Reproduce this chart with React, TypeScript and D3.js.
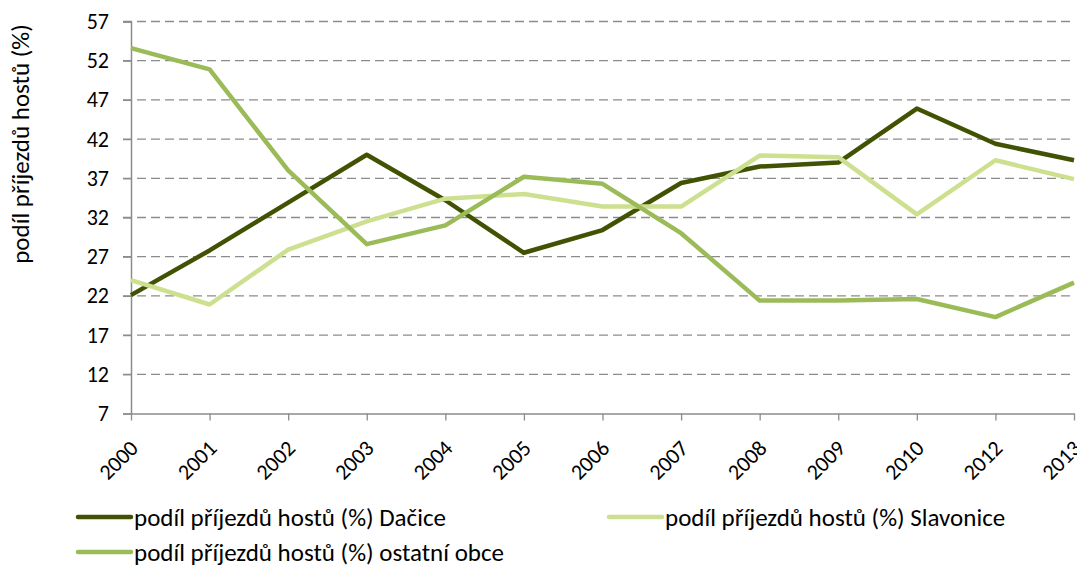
import { useEffect, useRef } from 'react';
import * as d3 from 'd3';

const YEARS = ['2000', '2001', '2002', '2003', '2004', '2005', '2006', '2007', '2008', '2009', '2010', '2012', '2013'];
const DACICE = [22.1, 27.8, 33.9, 40.0, 34.2, 27.5, 30.4, 36.4, 38.5, 39.0, 45.9, 41.4, 39.3];
const SLAVONICE = [24.0, 20.9, 27.9, 31.5, 34.4, 35.0, 33.4, 33.4, 39.9, 39.7, 32.4, 39.3, 36.9];
const OSTATNI = [53.6, 50.9, 38.0, 28.6, 31.0, 37.2, 36.3, 30.0, 21.4, 21.4, 21.6, 19.3, 23.7];
const Y_TICKS = [7, 12, 17, 22, 27, 32, 37, 42, 47, 52, 57];

const SERIES = [
  { name: 'podíl příjezdů hostů (%) Dačice', values: DACICE, color: '#415303' },
  { name: 'podíl příjezdů hostů (%) Slavonice', values: SLAVONICE, color: '#cde08f' },
  { name: 'podíl příjezdů hostů (%) ostatní obce', values: OSTATNI, color: '#9bbb59' },
];

const W = 1077;
const H = 567;
const M = { top: 21.5, right: 2, bottom: 153.5, left: 131 };
const FONT = 'Carlito, Calibri, Lato, sans-serif';
const FS = '25px';
const FS_TICK = '22px';

export default function App() {
  const ref = useRef<SVGSVGElement>(null);

  useEffect(() => {
    const svg = d3.select(ref.current!);
    svg.selectAll('*').remove();

    const innerW = W - M.left - M.right;
    const innerH = H - M.top - M.bottom;

    const x = d3.scalePoint<string>().domain(YEARS).range([0, innerW - 1]);
    const y = d3.scaleLinear().domain([7, 57]).range([innerH, 0]);

    const g = svg.append('g').attr('transform', `translate(${M.left},${M.top})`);

    // dashed gridlines, starting left of the axis like the tick marks
    g.append('g')
      .selectAll('line')
      .data(Y_TICKS.filter((t) => t > 7))
      .join('line')
      .attr('x1', -8)
      .attr('x2', innerW)
      .attr('y1', (d) => y(d))
      .attr('y2', (d) => y(d))
      .attr('stroke', '#8c8c8c')
      .attr('stroke-width', 1.3)
      .attr('stroke-dasharray', '9,5');

    // y axis
    g.append('g')
      .call(d3.axisLeft(y).tickValues(Y_TICKS).tickSize(8).tickPadding(14))
      .call((ax) => {
        ax.select('.domain').attr('stroke', '#8c8c8c').attr('stroke-width', 1.5);
        ax.selectAll('.tick line').attr('stroke', '#8c8c8c').attr('stroke-width', 1.3);
        ax.selectAll('.tick text')
          .attr('fill', '#000')
          .style('font-size', FS_TICK)
          .style('font-family', FONT);
      });

    // x axis
    g.append('g')
      .attr('transform', `translate(0,${innerH})`)
      .call(d3.axisBottom(x).tickSize(7).tickSizeOuter(0))
      .call((ax) => {
        ax.select('.domain').attr('stroke', '#8c8c8c').attr('stroke-width', 1.5);
        ax.selectAll('.tick line').attr('stroke', '#8c8c8c').attr('stroke-width', 1.3);
        ax.selectAll('.tick text')
          .attr('fill', '#000')
          .style('font-size', FS_TICK)
          .style('font-family', FONT)
          .attr('text-anchor', 'end')
          .attr('dy', 0)
          .attr('y', 0)
          .attr('transform', 'translate(8,36) rotate(-45)');
      });

    const line = d3
      .line<number>()
      .x((_, i) => x(YEARS[i])!)
      .y((d) => y(d));

    SERIES.forEach((s) => {
      g.append('path')
        .datum(s.values)
        .attr('fill', 'none')
        .attr('stroke', s.color)
        .attr('stroke-width', 4.5)
        .attr('stroke-linejoin', 'round')
        .attr('d', line);
    });

    // axis title
    svg
      .append('text')
      .attr('transform', 'translate(29,144) rotate(-90)')
      .attr('text-anchor', 'middle')
      .style('font-size', FS)
      .style('font-family', FONT)
      .text('podíl příjezdů hostů (%)');

    // legend
    const legendPos = [
      { x: 78, y: 517 },
      { x: 609, y: 517 },
      { x: 78, y: 552 },
    ];
    SERIES.forEach((s, i) => {
      const p = legendPos[i];
      const lg = svg.append('g').attr('transform', `translate(${p.x},${p.y})`);
      lg.append('line')
        .attr('x1', 0)
        .attr('x2', 53)
        .attr('stroke', s.color)
        .attr('stroke-width', 4.5)
        .attr('stroke-linecap', 'round');
      lg.append('text')
        .attr('x', 56)
        .attr('dy', '0.35em')
        .style('font-size', FS)
        .style('font-family', FONT)
        .text(s.name);
    });
  }, []);

  return (
    <svg
      ref={ref}
      width={W}
      height={H}
      style={{ position: 'absolute', left: 0, top: 0, background: '#fff' }}
    />
  );
}
